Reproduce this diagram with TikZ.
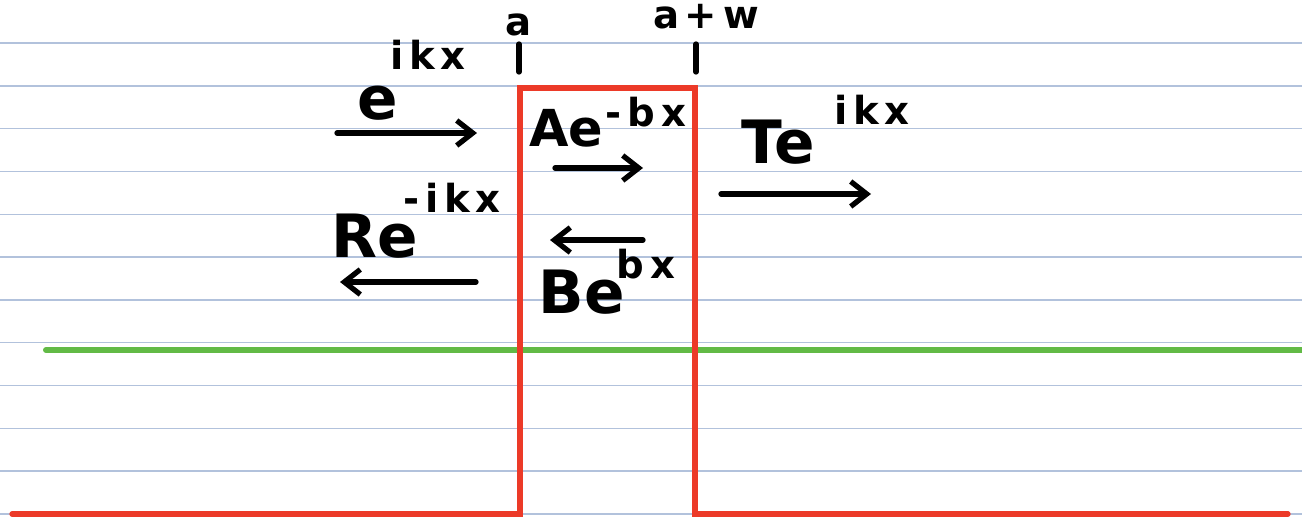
\documentclass[tikz,border=0pt]{standalone}
\usepackage{fontspec}
\setmainfont{DejaVu Sans}
\usetikzlibrary{arrows.meta}
\definecolor{ruleblue}{RGB}{178,194,220}
\definecolor{barred}{RGB}{236,58,40}
\definecolor{lvlgreen}{RGB}{98,186,70}
\begin{document}
\begin{tikzpicture}[x=0.02cm, y=-0.02cm,
    pen/.style={line width=3pt, line cap=round},
    wave/.style={pen, -{Straight Barb[length=0.32cm, width=0.5cm]}},
    base/.style={inner sep=0pt, font=\fontsize{34}{34}\selectfont\bfseries},
    expo/.style={inner sep=0pt, font=\fontsize{22}{22}\selectfont\bfseries\addfontfeature{LetterSpace=15}}]
    \useasboundingbox (0,0) rectangle (1302,518);
    % ruled paper
    \foreach \k in {0,...,11}
        \draw[ruleblue, line width=0.8pt] (0,43+42.8*\k) -- (1302,43+42.8*\k);
    % energy level and barrier
    \draw[lvlgreen, line width=3.4pt, line cap=round] (46,350) -- (1302,350);
    \draw[barred, line width=3pt, line cap=round]
        (12,514) -- (520,514) -- (520,88) -- (695,88) -- (695,514) -- (1288,514);
    % edges of the barrier
    \coordinate (atop) at (519,44);  \coordinate (abot) at (519,72);
    \coordinate (awtop) at (696,44); \coordinate (awbot) at (696,72);
    \draw[pen] (atop) -- (abot);
    \draw[pen] (awtop) -- (awbot);
    \node[expo] (ledge) at (519,25) {a};
    \node[expo] (redge) at (706,17) {a+w};
    % waves
    \node[base] (inc)    at (378,103) {e};
    \node[expo] (incexp) at (428,55)  {ikx};
    \node[base, font=\fontsize{29}{29}\selectfont\bfseries] (ae) at (566,128) {Ae};
    \node[expo] (aeexp)  at (646,112) {-bx};
    \node[base] (re)     at (375,236) {Re};
    \node[expo] (reexp)  at (452,198) {-ikx};
    \node[base] (be)     at (582,292) {Be};
    \node[expo] (beexp)  at (646,264) {bx};
    \node[base] (te)     at (778,142) {Te};
    \node[expo] (teexp)  at (872,110) {ikx};
    \coordinate (incL) at (337,133); \coordinate (incR) at (477,133);
    \coordinate (aeL)  at (555,168); \coordinate (aeR)  at (643,168);
    \coordinate (reL)  at (340,282); \coordinate (reR)  at (476,282);
    \coordinate (beL)  at (550,240); \coordinate (beR)  at (643,240);
    \coordinate (teL)  at (721,194); \coordinate (teR)  at (871,194);
    \draw[wave] (incL) -- (incR);
    \draw[wave] (aeL) -- (aeR);
    \draw[wave] (reR) -- (reL);
    \draw[wave] (beR) -- (beL);
    \draw[wave] (teL) -- (teR);
\end{tikzpicture}
\end{document}
